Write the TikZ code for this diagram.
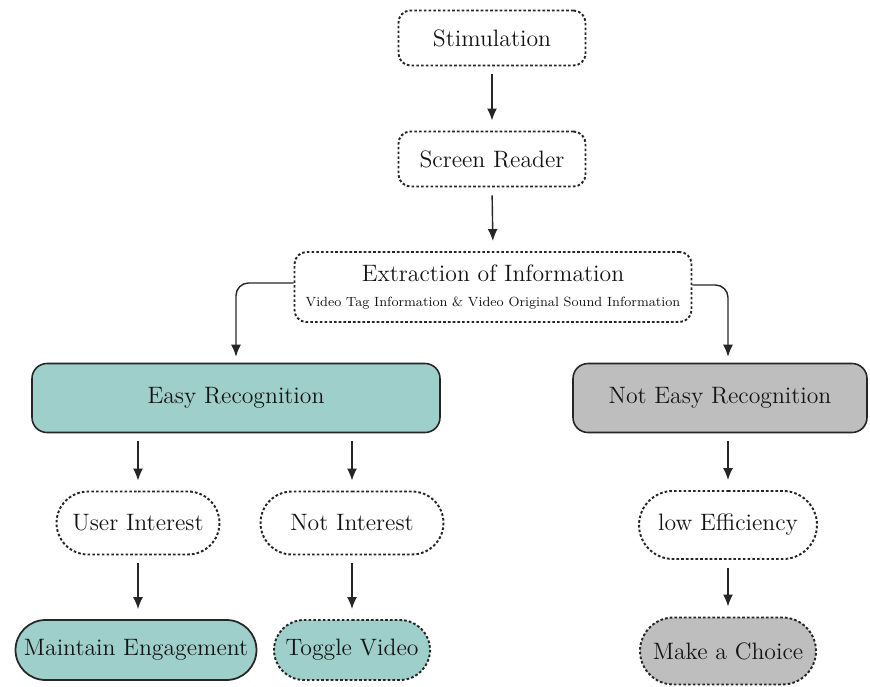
\documentclass[tikz,border=0pt]{standalone}
\usepackage{tikz}
\usetikzlibrary{arrows.meta,positioning,shapes.misc}
\definecolor{flowTeal}{HTML}{9FCFCB}
\definecolor{flowGray}{HTML}{BEBEBE}
\definecolor{flowBorder}{HTML}{262626}
\definecolor{flowText}{HTML}{141414}

\begin{document}
\begin{tikzpicture}[
        stepbox/.style={
            draw=flowBorder,
            dash pattern=on 1.5pt off 1.2pt,
            line width=1.1pt,
            rounded corners=0.24cm,
            minimum width=3.74cm,
            minimum height=1.1cm,
            align=center,
            text=flowText,
            font=\fontsize{13.5}{15}\selectfont
        },
        pill/.style={
            rounded rectangle,
            draw=flowBorder,
            line width=1pt,
            minimum height=1.26cm,
            inner xsep=2pt,
            text=flowText,
            font=\fontsize{13.5}{15}\selectfont
        },
        dotline/.style={dash pattern=on 1.5pt off 1.2pt, line width=1.1pt},
        block/.style={
            draw=flowBorder,
            line width=0.9pt,
            rounded corners=0.3cm,
            minimum height=1.38cm,
            text=flowText,
            font=\fontsize{13.5}{15}\selectfont
        },
        arrow/.style={
            -{Latex[length=2.4mm,width=2mm]},
            line width=0.8pt,
            draw=flowBorder,
            shorten <=0.16cm,
            shorten >=0.2cm
        }
    ]

    \useasboundingbox (0,0) rectangle (17.4,-13.74);

    \node[stepbox] (stim) at (9.84,-0.76) {Stimulation};

    \node[stepbox] (reader) at (9.84,-3.18) {Screen Reader};

    \node[stepbox, minimum width=7.94cm, minimum height=1.4cm] (extract) at (9.86,-5.74)
        {Extraction of Information\\[-1pt]
         {\fontsize{7.6}{10}\selectfont Video Tag Information \& Video Original Sound Information}};

    \node[block, fill=flowTeal, minimum width=8.16cm] (easy) at (4.72,-7.96) {Easy Recognition};

    \node[block, fill=flowGray, minimum width=5.88cm] (noteasy) at (14.4,-7.96) {Not Easy Recognition};

    \node[pill, dotline, minimum width=3.4cm] (user) at (2.76,-10.46) {User Interest};

    \node[pill, dotline, minimum width=3.8cm] (notint) at (7.04,-10.46) {Not Interest};

    \node[pill, dotline, minimum width=3.7cm, minimum height=1.36cm] (low) at (14.56,-10.5) {low Efficiency};

    \node[pill, fill=flowTeal, minimum width=4.96cm, minimum height=1.2cm] (keep) at (2.72,-13.0) {Maintain Engagement};

    \node[pill, dotline, fill=flowTeal, minimum width=3.26cm, minimum height=1.2cm] (toggle) at (7.04,-13.0) {Toggle Video};

    \node[pill, dotline, fill=flowGray, minimum width=3.66cm, minimum height=1.34cm] (choice) at (14.56,-13.02) {Make a Choice};

    \draw[arrow] (stim.south) -- (reader.north);
    \draw[arrow] (reader.south) -- (extract.north);

    \draw[arrow, shorten <=0pt, shorten >=0.12cm, rounded corners=0.25cm]
        ([yshift=0.08cm]extract.west) -| (easy.north);
    \draw[arrow, shorten <=0pt, shorten >=0.12cm, rounded corners=0.25cm]
        ([yshift=0.04cm]extract.east) -| ([xshift=0.16cm]noteasy.north);

    \draw[arrow] (easy.south -| user.north) -- (user.north);
    \draw[arrow] (easy.south -| notint.north) -- (notint.north);
    \draw[arrow] (noteasy.south -| low.north) -- (low.north);

    \draw[arrow] (user.south) -- (user.south |- keep.north);
    \draw[arrow] (notint.south) -- (toggle.north);
    \draw[arrow] (low.south) -- (choice.north);

\end{tikzpicture}
\end{document}
